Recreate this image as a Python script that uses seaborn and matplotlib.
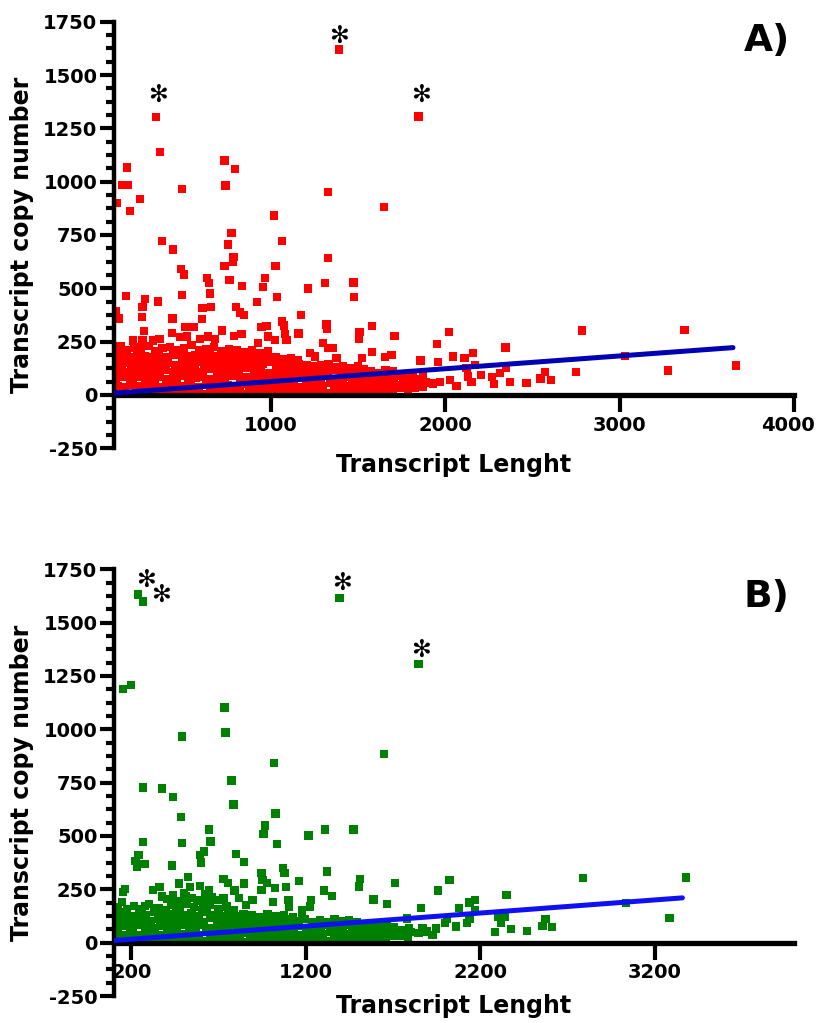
import matplotlib
matplotlib.use("Agg")
import matplotlib.pyplot as plt
import matplotlib.transforms as mtransforms
import seaborn as sns
import pandas as pd
from matplotlib.ticker import MultipleLocator

sns.set_style("white")
plt.rcParams['font.family'] = ['DejaVu Sans']
plt.rcParams['font.weight'] = 'bold'
plt.rcParams['axes.unicode_minus'] = False
plt.rcParams['text.color'] = 'black'
plt.rcParams['axes.labelcolor'] = 'black'
plt.rcParams['xtick.color'] = 'black'
plt.rcParams['ytick.color'] = 'black'

# ---------------- Panel A (red) ----------------
a_core_x = [
    105,147,189,231,273,315,357,399,441,483,525,567,609,651,693,735,777,819,861,903,945,987,1029,1071,1113,1155,1197,1239,1281,1323,1365,1407,1449,1491,1533,1575,1617,1659,1701,1743,1785,1827,1869,
    122,164,206,248,290,332,374,416,458,500,542,584,626,668,710,752,794,836,878,920,962,1004,1046,1088,1130,1172,1214,1256,1298,1340,1382,1424,1466,1508,1550,1592,1634,1676,1718,1760,1802,1844,1886,1928,1970,
    108,150,192,234,276,318,360,402,444,486,528,570,612,654,696,738,780,822,864,906,948,990,1032,1074,1116,1158,1200,1242,1284,1326,1368,1410,1452,1494,1536,1578,1620,1662,1704,1746,1788,1830,1872,
    104,146,188,230,272,314,356,398,440,482,524,566,608,650,692,734,776,818,860,902,944,986,1028,1070,1112,1154,1196,1238,1280,1322,1364,1406,1448,1490,1532,1574,1616,1658,1700,
    112,154,196,238,280,322,364,406,448,490,532,574,616,658,700,742,784,826,868,910,952,994,1036,1078,1120,1162,1204,1246,1288,1330,1372,1414,1456,1498,
    106,148,190,232,274,316,358,400,442,484,526,568,610,652,694,736,778,820,862,904,946,988,1030,1072,1114,1156,
    110,138,176,214,252,298,336,378,420,458,502,544,586,628,672,716,758,802,848,892,938,984,
]
a_core_y = [
    6,12,4,15,9,18,7,13,5,16,10,14,6,19,11,8,17,12,5,15,9,20,13,7,16,11,22,14,18,10,24,16,20,13,27,21,30,24,28,35,26,32,38,
    42,36,48,39,45,51,37,44,49,40,46,38,52,43,41,47,36,50,42,47,39,53,45,41,49,37,51,46,43,55,48,40,53,45,57,49,44,54,47,60,52,46,58,50,62,
    76,83,71,87,79,74,85,72,81,89,75,80,86,73,82,78,88,71,84,77,81,75,87,73,80,85,71,83,77,89,74,81,86,72,79,91,75,83,78,92,80,74,88,
    111,119,106,123,114,109,121,116,108,125,112,118,105,122,115,110,120,107,126,113,117,104,121,111,116,123,109,118,113,106,119,111,115,109,121,112,104,118,110,
    146,153,141,159,148,144,156,150,142,161,147,154,140,158,149,145,157,143,151,139,148,155,142,150,137,146,141,133,139,145,130,137,128,134,
    181,189,176,193,184,179,191,177,187,196,182,188,175,192,183,178,190,173,186,171,181,169,177,166,172,163,
    216,229,209,223,213,231,206,219,226,211,221,233,208,217,225,204,215,209,201,212,198,205,
]
a_out_x = [
    342,364,176,144,182,115,251,190,490,734,795,740,1389,1846,1326,1647,1019,774,753,1065,377,438,
    786,784,734,1027,1328,484,501,633,643,763,965,956,833,1309,1474,1477,1212,1034,167,279,264,260,352,490,
    650,656,608,606,436,799,822,847,920,113,125,272,434,1172,1065,1074,1080,1158,1319,1322,1508,509,555,719,
    946,975,209,264,322,360,478,517,593,640,679,790,832,927,984,1023,1089,1300,1328,1357,1223,1252,1376,1523,
    1580,1506,1504,1708,2020,1953,1580,1691,1653,1858,1957,2044,2159,2111,2346,2784,3372,3029,3668,3276,2748,
    2570,2547,2608,2465,2373,2350,2279,2268,2203,2312,2169,2121,2130,2150,2064,2026,1854,1921,1815,1768,
]
a_out_y = [
    1303,1139,1067,985,985,900,918,863,965,1100,1060,982,1619,1305,951,882,841,759,705,723,723,682,
    646,624,605,605,641,590,565,547,524,540,548,507,512,526,527,458,499,458,463,449,412,367,438,468,
    475,414,407,355,358,414,386,374,436,393,358,299,292,375,344,325,286,288,330,311,294,318,320,302,
    318,324,255,255,255,261,271,274,263,274,261,277,286,243,274,258,258,243,219,219,196,180,172,172,
    324,292,263,277,294,239,202,188,177,161,155,180,196,172,222,302,305,184,138,114,107,
    109,78,70,55,60,125,50,83,94,102,141,125,86,62,42,70,70,55,102,86,
]
a_fit_x = [100, 3650]
a_fit_y = [9, 222]
a_star_x = [350, 1391, 1861]
a_star_y = [1406, 1684, 1406]

# ---------------- Panel B (green) ----------------
b_core_x = [
    105,147,189,231,273,315,357,399,441,483,525,567,609,651,693,735,777,819,861,903,945,987,1029,1071,1113,1155,1197,1239,1281,1323,1365,1407,1449,1491,1533,1575,1617,1659,1701,1743,1785,
    124,166,208,250,292,334,376,418,460,502,544,586,628,670,712,754,796,838,880,922,964,1006,1048,1090,1132,1174,1216,1258,1300,1342,1384,1426,1468,1510,1552,1594,1636,1678,1720,1762,1804,1846,
    110,152,194,236,278,320,362,404,446,488,530,572,614,656,698,740,782,824,866,908,950,992,1034,1076,1118,1160,1202,1244,1286,1328,1370,1412,1454,1496,1538,1580,1622,1664,1706,
    104,146,188,230,272,314,356,398,440,482,524,566,608,650,692,734,776,818,860,902,944,986,1028,1070,1112,1154,1196,1238,1280,1322,1364,1406,1448,1490,
    115,160,198,244,285,330,372,418,455,500,545,585,630,668,712,756,800,842,890,935,980,1030,1075,1125,1180,
    122,175,215,262,300,345,395,430,475,520,560,605,650,700,745,790,
    405,440,470,500,545,575,620,660,695,
]
b_core_y = [
    5,11,3,14,8,16,6,12,4,15,9,13,5,17,10,7,15,11,4,14,8,18,12,6,15,10,20,13,17,9,22,15,19,12,25,20,28,23,30,34,27,
    40,34,46,37,43,49,35,42,47,38,44,36,50,41,39,45,34,48,40,45,37,51,43,39,47,35,49,44,41,53,46,38,51,43,55,47,42,52,45,58,50,44,
    72,79,66,83,75,70,81,68,77,85,71,76,82,69,78,74,84,67,80,73,77,71,83,69,76,81,67,79,73,85,70,77,82,68,75,87,71,79,74,
    104,112,99,116,107,102,114,109,101,118,105,111,98,115,108,103,113,100,119,106,110,97,114,104,109,101,112,98,106,95,108,100,104,97,
    132,140,125,138,128,143,122,135,141,127,136,124,145,131,126,139,122,134,128,120,133,125,130,119,127,
    165,158,172,155,180,162,150,176,160,183,168,152,175,158,170,154,
    205,222,195,230,210,198,226,212,200,
]
b_out_x = [
    236,268,1393,1846,153,199,734,740,490,1647,1019,774,786,268,377,438,484,1027,965,643,1309,1474,
    957,1216,266,490,654,1036,618,595,600,800,846,241,223,233,274,433,1070,1077,1321,946,952,1511,1506,1713,
    2024,1960,2791,3381,2352,3037,3286,1162,1303,1352,1588,1667,1862,2080,2139,2172,2172,2306,2339,2318,2285,
    2378,2470,2557,2575,2613,1998,2062,2126,2139,1895,1926,1870,1947,2011,1780,1793,1690,1729,
    361,377,325,151,164,144,156,472,523,536,592,644,728,754,792,844,946,977,1023,1087,818,895,856,1011,1100,
    1105,1177,1228,1223,728,677,638,613,279,356,433,459,510,
]
b_out_y = [
    1632,1599,1617,1305,1188,1208,1102,985,966,883,842,760,647,727,722,683,589,605,549,530,530,530,
    508,502,471,467,474,461,427,411,375,417,378,411,383,356,368,361,349,328,333,325,294,297,263,280,
    294,244,303,305,224,185,117,289,244,220,203,181,164,161,188,200,150,119,119,91,49,
    63,56,78,111,74,91,75,91,114,52,36,67,67,114,114,67,44,60,
    260,216,247,239,250,192,145,278,309,260,266,247,297,281,244,278,247,281,255,260,208,200,177,192,200,
    166,153,200,169,208,200,216,185,172,161,200,169,216,
]
b_fit_x = [100, 3360]
b_fit_y = [10, 210]
b_star_x = [282, 368, 1405, 1861]
b_star_y = [1702, 1630, 1688, 1372]

assert len(a_core_x) == len(a_core_y), (len(a_core_x), len(a_core_y))
assert len(a_out_x) == len(a_out_y), (len(a_out_x), len(a_out_y))
assert len(b_core_x) == len(b_core_y), (len(b_core_x), len(b_core_y))
assert len(b_out_x) == len(b_out_y), (len(b_out_x), len(b_out_y))

W, H = 816, 1023
fig = plt.figure(figsize=(W / 100, H / 100), dpi=100)
fig.patch.set_facecolor("white")
axA = fig.add_axes([114 / W, 1 - 448.3 / H, 680 / W, 426.6 / H])
axB = fig.add_axes([114 / W, 1 - 996 / H, 680 / W, 426.7 / H])


def panel(ax, xs, ys, color, fx, fy, fcolor, xticks, sx, sy, tag, tag_y, xlab_y):
    df = pd.DataFrame({"Transcript Lenght": xs, "Transcript copy number": ys})
    sns.scatterplot(data=df, x="Transcript Lenght", y="Transcript copy number", ax=ax,
                    marker="s", s=36, color=color, linewidth=0, edgecolor="none",
                    zorder=2, legend=False)
    sns.lineplot(x=fx, y=fy, ax=ax, color=fcolor, linewidth=3.6, zorder=3)
    ax.set_xlim(100, 4000)
    ax.set_ylim(-250, 1750)
    for s in ["top", "right"]:
        ax.spines[s].set_visible(False)
    ax.spines["bottom"].set_position(("data", 0))
    ax.spines["bottom"].set_linewidth(3.8)
    ax.spines["left"].set_linewidth(3.2)
    ax.spines["bottom"].set_color("black")
    ax.spines["left"].set_color("black")
    ax.set_yticks(list(range(-250, 1751, 250)))
    ax.yaxis.set_minor_locator(MultipleLocator(62.5))
    ax.set_xticks(xticks)
    ax.tick_params(axis="y", which="major", direction="out", length=10, width=3,
                   labelsize=14, pad=2, left=True, colors="black")
    ax.tick_params(axis="y", which="minor", direction="out", length=6, width=3, left=True,
                   colors="black")
    ax.tick_params(axis="x", which="major", direction="out", length=12, width=3,
                   labelsize=14, pad=3, bottom=True, colors="black")
    for lb in ax.get_xticklabels() + ax.get_yticklabels():
        lb.set_fontweight("bold")
    # keep the right-most x tick label inside the canvas
    last = ax.get_xticklabels()[-1]
    if xticks[-1] >= 4000:
        last.set_transform(last.get_transform() +
                           mtransforms.ScaledTranslation(-6 / 100, 0, fig.dpi_scale_trans))
    ax.set_xlabel("Transcript Lenght", fontsize=17, fontweight="bold", color="black")
    ax.set_ylabel("Transcript copy number", fontsize=17, fontweight="bold", color="black")
    ax.xaxis.set_label_coords(0.5, xlab_y)
    ax.yaxis.set_label_coords(-0.118, 0.5)
    for x, y in zip(sx, sy):
        ax.text(x, y, "\u273b", ha="center", va="center", fontsize=17, color="black",
                fontweight="bold", zorder=4)
    ax.text(3975, tag_y, tag, ha="right", va="center", fontsize=27, fontweight="bold",
            color="black")
    ax.grid(False)


panel(axA, a_core_x + a_out_x, a_core_y + a_out_y, "#FF0000", a_fit_x, a_fit_y, "#0000B4",
      [1000, 2000, 3000, 4000], a_star_x, a_star_y, "A)", 1660, -0.012)
panel(axB, b_core_x + b_out_x, b_core_y + b_out_y, "#008000", b_fit_x, b_fit_y, "#1010F5",
      [200, 1200, 2200, 3200], b_star_x, b_star_y, "B)", 1620, 0.004)

fig.savefig("out.png", dpi=100, facecolor="white")
